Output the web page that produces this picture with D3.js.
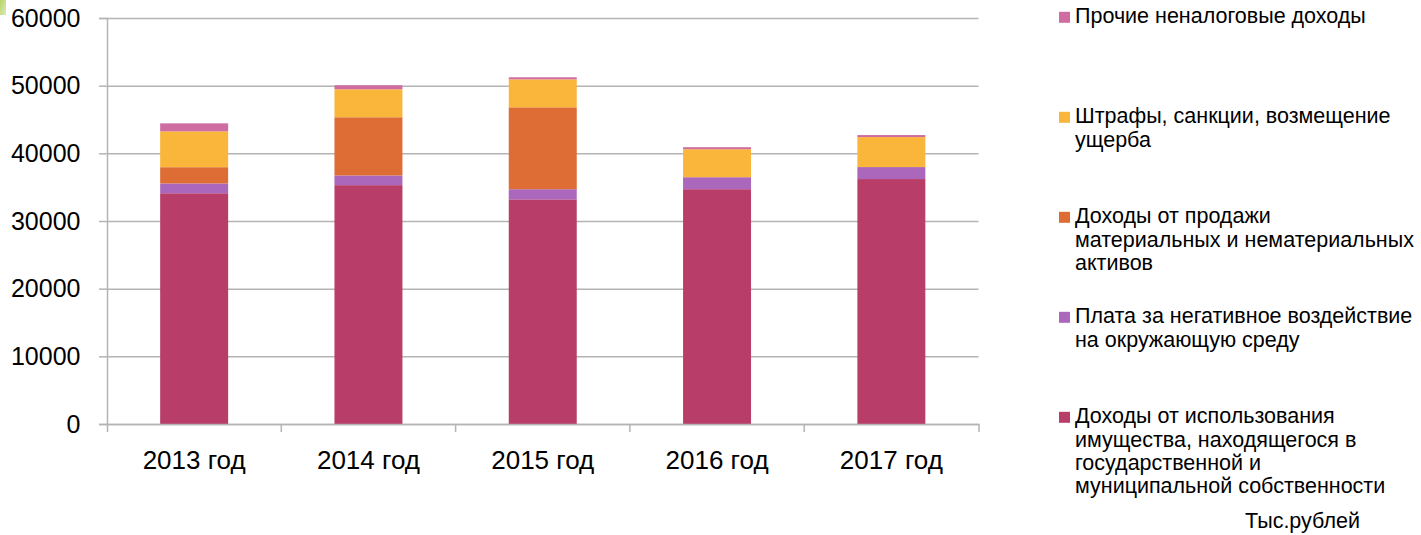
<!DOCTYPE html>
<html>
<head>
<meta charset="utf-8">
<script src="https://cdn.jsdelivr.net/npm/d3@7"></script>
<style>
  body { margin: 0; background: #fff; }
  text { font-family: "Liberation Sans", Arial, sans-serif; fill: #000; }
</style>
</head>
<body>
<div class="chart"></div>
<script>
// Data (тыс. рублей)
var years = ["2013 год", "2014 год", "2015 год", "2016 год", "2017 год"];
var propertyIncome = [34100, 35300, 33200, 34700, 36200];
var envPayment = [1450, 1430, 1500, 1770, 1770];
var assetSales = [2400, 8600, 12100, 0, 0];
var fines = [5300, 4140, 4140, 4140, 4430];
var otherIncome = [1180, 590, 300, 300, 300];
var yTicks = [0, 10000, 20000, 30000, 40000, 50000, 60000];

// series keys bottom -> top
var keys = ["property", "env", "sales", "fines", "other"];
var seriesColor = {
  property: "#B93D69",
  env: "#AB67BC",
  sales: "#DE6C35",
  fines: "#F9B63B",
  other: "#CF6DA3"
};
// legend, top -> bottom
var legendKeys = ["other", "fines", "sales", "env", "property"];
var legendLines = [
  ["Прочие неналоговые доходы"],
  ["Штрафы, санкции, возмещение", "ущерба"],
  ["Доходы от продажи", "материальных и нематериальных", "активов"],
  ["Плата за негативное воздействие", "на окружающую среду"],
  ["Доходы от использования", "имущества, находящегося в", "государственной и", "муниципальной собственности"]
];
var unitLabel = "Тыс.рублей";

var rows = years.map(function(y, i) {
  return {year: y, property: propertyIncome[i], env: envPayment[i],
          sales: assetSales[i], fines: fines[i], other: otherIncome[i]};
});

// geometry
var svgWidth = 1421, svgHeight = 535;
var plot = {left: 107, right: 978.5, top: 18, bottom: 424};
var gridColor = "#B4B4B4";

var svg = d3.select(".chart").append("svg")
  .attr("width", svgWidth)
  .attr("height", svgHeight);

// little green slide decoration in the corner
var defs = svg.append("defs");
var grad = defs.append("linearGradient").attr("id", "corner").attr("x1", 0).attr("y1", 0).attr("x2", 1).attr("y2", 1);
grad.append("stop").attr("offset", "0%").attr("stop-color", "#B6D468");
grad.append("stop").attr("offset", "100%").attr("stop-color", "#DCEBB5");
svg.append("rect").attr("x", 0).attr("y", 0).attr("width", 6).attr("height", 15).attr("fill", "url(#corner)");

var x = d3.scaleBand()
  .domain(years)
  .range([plot.left, plot.right])
  .paddingInner(0.61)
  .paddingOuter(0.305);

var y = d3.scaleLinear()
  .domain([0, 60000])
  .range([plot.bottom, plot.top]);

// gridlines
var grid = svg.append("g")
  .attr("transform", `translate(${plot.left},0)`)
  .call(d3.axisLeft(y).tickValues(yTicks).tickSize(-(plot.right - plot.left)).tickFormat(""));
grid.select(".domain").remove();
grid.selectAll("line").attr("stroke", gridColor).attr("stroke-width", 1.5);

// y axis with labels
var yAxis = svg.append("g")
  .attr("transform", `translate(${plot.left},0)`)
  .call(d3.axisLeft(y).tickValues(yTicks).tickSize(8).tickPadding(18.5).tickFormat(d3.format("d")));
yAxis.select(".domain").attr("stroke", gridColor).attr("stroke-width", 1.5);
yAxis.selectAll("line").attr("stroke", gridColor).attr("stroke-width", 1.5);
yAxis.selectAll("text").attr("font-size", "25px").attr("font-family", "Liberation Sans, Arial, sans-serif").attr("fill", "#000");

// bars
var stack = d3.stack().keys(keys);
var layers = stack(rows);

svg.append("g").selectAll("g")
  .data(layers)
  .enter()
  .append("g")
  .attr("fill", d => seriesColor[d.key])
  .selectAll("rect")
  .data(d => d)
  .enter()
  .append("rect")
  .attr("x", d => x(d.data.year))
  .attr("width", x.bandwidth())
  .attr("y", d => y(d[1]))
  .attr("height", d => y(d[0]) - y(d[1]));

// x axis
var xAxis = svg.append("g")
  .attr("transform", `translate(0,${plot.bottom})`)
  .call(d3.axisBottom(x).tickSizeInner(0).tickSizeOuter(8).tickPadding(27));
xAxis.select(".domain").attr("stroke", gridColor).attr("stroke-width", 1.5).attr("fill", "none");
xAxis.selectAll(".tick line").remove();
xAxis.selectAll("text").attr("font-size", "26px").attr("font-family", "Liberation Sans, Arial, sans-serif").attr("fill", "#000");

// category boundary ticks
xAxis.selectAll(".bound")
  .data(d3.range(1, years.length))
  .enter()
  .append("line")
  .attr("class", "bound")
  .attr("x1", i => x.range()[0] + i * x.step())
  .attr("x2", i => x.range()[0] + i * x.step())
  .attr("y1", 0)
  .attr("y2", 8)
  .attr("stroke", gridColor)
  .attr("stroke-width", 1.5);

// legend
var legendX = 1059, legendTop = 23.3, entryStep = 100, lineHeight = 23.3;
var legend = svg.append("g");
legendKeys.forEach(function(k, i) {
  var base = legendTop + i * entryStep;
  legend.append("rect")
    .attr("x", legendX)
    .attr("y", base - 11.5)
    .attr("width", 11)
    .attr("height", 11)
    .attr("fill", seriesColor[k]);
  var t = legend.append("text")
    .attr("x", legendX + 16)
    .attr("y", base)
    .attr("font-size", "21.5px");
  legendLines[i].forEach(function(line, j) {
    t.append("tspan")
      .attr("x", legendX + 16)
      .attr("dy", j === 0 ? 0 : lineHeight)
      .text(line);
  });
});

svg.append("text")
  .attr("x", 1245)
  .attr("y", 528.3)
  .attr("font-size", "21.5px")
  .text(unitLabel);
</script>
</body>
</html>
